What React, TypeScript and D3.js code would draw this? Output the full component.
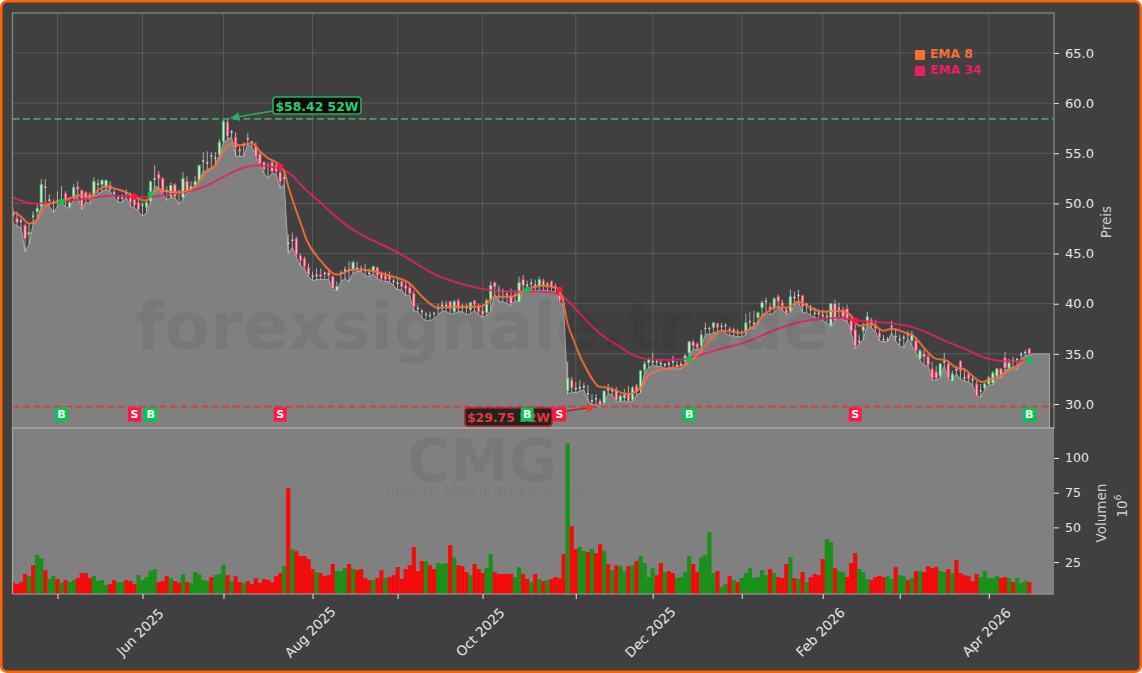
import { useEffect, useRef } from "react";
import * as d3 from "d3";

const W = 1142;
const H = 673;

const opens = [
  49.1,48.5,48.2,47.8,46.9,48.7,49.2,49.7,51.6,50.3,
  50.0,50.2,50.1,51.0,49.6,50.6,51.7,51.3,51.1,50.9,
  50.7,51.9,51.9,51.6,51.8,51.0,50.5,50.5,51.0,50.6,
  50.4,50.1,49.8,49.6,50.2,52.4,52.9,52.5,51.2,50.7,
  51.9,51.0,50.6,52.2,51.4,51.8,52.2,54.2,54.0,54.7,
  54.5,54.9,56.2,58.1,57.1,56.6,55.4,55.8,56.4,56.2,
  55.7,54.9,54.1,53.7,54.1,53.8,53.1,52.6,46.0,46.3,
  46.5,44.8,44.5,43.6,42.7,42.8,42.9,43.0,43.1,42.7,
  41.3,43.0,43.3,43.3,43.3,43.5,43.4,43.3,43.0,43.3,
  43.6,43.0,42.8,42.8,42.2,42.0,42.2,41.8,41.6,41.0,
  39.5,39.2,38.9,38.8,39.0,39.5,39.8,39.8,40.2,39.2,
  40.3,39.6,39.6,39.4,40.3,39.8,39.3,39.1,40.3,42.1,
  41.3,41.2,40.9,40.8,40.8,40.2,42.4,41.8,42.0,41.8,
  41.8,42.3,41.9,42.2,41.6,41.2,39.9,31.3,32.4,31.5,
  31.6,31.7,31.0,30.3,30.6,30.3,30.1,31.4,31.3,31.4,
  30.3,30.6,31.1,30.4,31.8,31.6,33.4,34.1,34.2,34.2,
  34.0,33.9,34.0,34.2,33.8,33.9,34.3,35.1,36.2,36.0,
  35.8,37.5,37.5,37.6,38.0,37.7,37.8,37.4,37.3,37.1,
  37.2,37.1,38.2,38.0,38.6,39.6,40.2,39.7,39.5,40.7,
  40.1,39.4,39.2,40.6,40.8,40.8,39.9,39.4,39.0,39.0,
  38.8,38.7,37.8,40.0,39.5,39.4,39.5,38.3,37.4,36.2,
  37.3,38.2,38.4,37.9,37.1,36.4,36.4,37.7,36.7,36.4,
  36.6,36.9,36.3,36.3,34.5,35.0,34.7,33.5,33.2,32.8,
  34.2,34.0,32.3,33.4,34.3,32.6,33.0,32.4,32.0,31.3,
  31.6,32.0,32.1,32.8,33.5,34.6,33.6,34.3,34.4,34.9,35.1,35.5,
];
const closes = [
  48.7,48.1,48.3,46.5,47.1,48.8,49.5,51.9,51.7,50.4,
  50.1,50.3,50.4,50.2,50.1,51.6,51.4,49.7,50.4,50.4,
  52.2,52.0,52.3,52.3,51.4,51.1,50.6,50.6,51.1,50.1,
  49.8,49.4,49.9,50.1,52.2,52.5,52.5,51.1,51.3,51.8,
  50.7,51.1,52.5,51.3,51.7,52.2,53.8,54.3,54.1,54.8,
  54.6,56.1,58.2,56.7,57.2,55.6,55.2,55.9,56.5,56.1,
  54.7,54.0,53.4,53.8,53.2,53.2,52.2,52.5,46.1,46.4,
  44.9,44.3,43.7,42.9,42.8,42.9,42.7,43.1,42.8,41.5,
  41.7,43.1,43.4,43.4,44.1,43.6,43.5,43.4,43.1,43.7,
  42.8,42.5,42.4,42.4,42.3,42.1,41.7,41.5,41.0,39.7,
  39.6,39.3,39.0,38.9,39.1,39.6,39.9,39.9,39.5,40.2,
  39.5,39.7,39.7,40.1,39.9,39.2,38.9,40.3,41.8,41.7,
  41.4,41.3,41.0,40.0,40.9,42.1,41.8,41.9,42.1,41.9,
  42.4,41.8,42.0,41.7,41.7,40.3,40.0,32.6,31.6,31.6,
  31.7,31.8,31.1,30.4,30.5,29.9,31.3,31.5,31.4,30.4,
  30.8,30.9,30.3,31.6,31.2,33.3,34.0,34.4,34.3,34.3,
  34.1,34.0,34.1,34.3,33.9,34.0,34.8,36.2,35.8,35.6,
  36.9,37.6,37.6,38.1,37.6,37.8,37.9,37.5,37.4,37.2,
  37.1,38.1,38.3,38.1,39.1,40.1,40.3,39.4,40.5,40.2,
  39.8,39.0,40.7,40.7,40.9,39.7,40.0,39.5,39.1,39.1,
  38.9,38.8,40.0,38.3,39.6,38.7,38.4,37.3,35.8,36.3,
  37.7,38.7,37.8,37.5,36.6,36.5,36.5,37.8,36.8,36.5,
  36.7,37.0,36.9,35.3,35.3,34.7,33.9,32.6,32.6,34.0,
  34.3,32.6,33.0,33.5,33.3,32.7,32.5,32.5,30.8,31.4,
  32.0,32.6,33.1,33.5,32.9,33.6,34.1,34.4,34.5,35.0,35.2,35.0,
];
const highs = [
  49.6,49.2,48.7,48.0,48.0,49.2,49.9,52.4,52.4,50.9,
  50.4,51.2,51.7,51.2,50.6,51.9,52.2,51.4,51.2,51.1,
  52.6,52.4,52.4,52.4,52.2,51.4,50.8,50.9,51.4,51.1,
  50.7,50.6,50.1,50.4,52.2,53.8,53.2,52.6,51.7,52.1,
  52.0,51.4,53.1,52.7,52.2,52.7,53.8,55.1,55.2,55.1,
  55.1,56.4,58.3,58.4,57.3,57.1,55.7,56.1,57.0,56.2,
  56.1,55.2,54.2,54.1,54.2,54.0,53.7,53.3,46.9,47.1,
  46.7,45.0,44.7,44.0,43.2,43.5,43.5,43.2,43.5,42.8,
  42.2,43.3,43.7,44.2,44.3,44.2,43.8,44.0,43.5,43.8,
  43.7,43.2,43.2,43.2,42.5,42.5,42.3,42.2,42.0,41.3,
  39.9,39.5,39.2,39.2,39.2,40.0,40.3,40.3,40.3,40.4,
  40.5,40.0,40.0,40.2,40.3,40.0,39.7,40.5,42.2,42.2,
  41.8,41.5,41.3,41.5,41.3,42.7,42.9,42.3,42.5,42.4,
  42.7,42.5,42.2,42.3,42.0,41.5,40.8,34.2,32.7,32.2,
  32.4,32.1,31.9,31.0,31.0,30.5,31.3,32.0,31.7,31.7,
  31.0,31.5,31.8,31.8,32.0,33.4,34.3,34.6,35.1,34.5,
  34.5,34.1,34.3,34.8,34.3,34.3,35.0,36.3,36.4,36.2,
  37.4,38.1,37.7,38.1,38.1,38.1,38.1,37.7,37.6,37.5,
  37.4,39.0,39.2,39.3,39.2,40.3,40.6,40.1,40.6,40.9,
  40.4,39.7,41.4,41.2,41.4,40.9,40.1,39.9,39.6,39.4,
  39.4,39.2,40.1,40.4,40.1,39.7,39.9,38.7,38.4,36.9,
  38.1,39.2,38.6,38.4,37.5,36.9,36.7,38.3,37.5,36.9,
  36.9,37.3,37.3,36.6,35.5,35.5,35.0,34.2,33.8,34.1,
  35.1,34.3,33.3,33.8,34.3,33.3,33.1,32.8,32.3,32.0,
  32.2,32.8,33.3,33.6,33.6,35.2,34.5,34.7,34.6,35.2,35.4,35.6,
];
const lows = [
  48.1,47.7,47.6,45.2,45.9,47.9,48.4,49.7,50.1,49.7,
  49.1,49.7,50.0,49.7,49.5,50.4,50.7,49.4,50.1,50.0,
  50.6,50.9,51.2,51.4,51.2,50.6,50.1,50.1,50.6,49.7,
  49.6,49.2,48.7,49.1,50.1,51.7,51.6,50.9,50.3,50.6,
  50.6,49.9,50.4,51.1,51.2,51.6,52.1,53.2,53.2,53.4,
  53.9,54.8,56.0,56.4,56.6,54.7,54.7,54.7,55.9,55.6,
  54.7,53.8,53.0,52.5,53.0,52.9,51.5,51.9,45.0,45.6,
  44.6,43.8,43.5,42.7,42.3,42.4,42.4,42.4,42.4,41.4,
  41.3,42.2,42.5,42.2,43.1,43.2,43.2,42.8,42.7,43.0,
  42.5,42.3,42.2,42.2,41.8,41.4,41.4,40.8,40.8,39.3,
  39.2,38.6,38.3,38.3,38.5,38.9,39.3,39.2,39.0,39.0,
  39.2,39.2,38.9,39.0,39.3,38.9,38.7,38.8,39.3,40.9,
  40.2,40.2,40.0,39.8,40.3,40.2,41.3,41.3,41.3,41.3,
  41.3,41.3,41.3,41.2,41.2,40.2,39.7,31.0,31.2,31.1,
  31.3,31.4,30.4,29.9,29.9,29.75,30.0,31.0,30.9,30.3,
  30.2,30.3,30.2,30.3,30.9,31.1,33.1,33.6,33.9,33.7,
  33.8,33.5,33.5,33.5,33.5,33.5,33.9,34.8,35.5,35.4,
  35.6,37.0,36.9,37.1,37.2,37.4,37.1,36.8,36.8,36.7,
  36.7,36.9,37.7,37.5,38.0,38.9,39.1,38.9,39.1,39.6,
  39.4,38.9,39.1,39.9,40.2,39.1,39.1,38.9,38.6,38.5,
  38.3,38.1,37.7,38.3,38.7,38.4,38.3,37.1,35.5,36.0,
  36.4,37.9,37.6,37.2,36.3,36.2,36.2,37.1,36.3,35.8,
  35.6,36.5,35.8,35.1,34.4,33.8,33.8,32.4,32.4,32.6,
  33.8,32.5,32.3,33.0,32.5,32.3,32.2,31.9,30.8,30.7,
  31.4,31.9,31.9,32.6,32.6,33.4,33.5,33.7,33.4,34.5,34.8,34.9,
];
// area runs on a little past the last session
const areaTailIdx = [252, 256];
const areaTailPrice = [35.0, 35.0];

const volumes = [
  10.4,9.2,10.4,16.4,14.9,22.8,30.0,27.9,19.2,12.8,
  14.9,12.8,10.1,12.1,10.6,12.1,13.5,17.1,17.1,13.5,
  14.9,11.3,12.1,8.5,9.2,12.1,10.6,10.6,12.1,11.3,
  9.2,15.6,12.1,14.2,18.5,20.0,10.6,11.3,14.9,13.5,
  11.3,10.1,16.4,10.6,9.9,17.8,16.4,12.1,11.3,14.2,
  15.6,16.4,22.8,15.6,11.3,14.9,10.6,9.9,11.3,9.2,
  13.5,9.9,12.8,12.1,10.6,14.9,17.1,22.1,78.2,34.4,
  32.9,29.3,29.3,27.2,20.0,17.8,17.1,14.9,15.6,23.6,
  18.5,18.5,20.7,23.6,20.0,19.2,20.0,13.5,12.1,12.1,
  13.5,19.2,13.5,14.2,15.6,21.4,12.8,20.0,22.8,35.8,
  18.5,25.7,25.7,22.8,20.0,24.3,23.6,24.3,37.2,28.6,
  22.8,22.1,17.8,15.6,23.6,20.0,17.1,20.7,30.8,17.8,
  16.4,16.4,16.4,16.4,14.2,21.4,16.4,12.8,10.6,16.4,
  12.8,11.3,12.1,12.8,14.2,13.5,30.8,110.6,50.9,34.4,
  35.8,32.9,32.2,34.4,31.5,37.9,32.9,23.6,19.2,22.8,
  22.1,18.5,22.1,22.8,25.7,29.3,24.3,14.2,20.7,15.6,
  24.3,17.8,18.5,17.1,13.5,14.2,17.8,29.3,23.6,17.8,
  28.6,30.0,46.6,17.1,18.5,7.0,9.2,14.9,12.1,10.6,
  13.5,17.1,20.7,13.5,14.2,19.2,15.6,20.0,17.1,14.2,
  13.5,23.6,28.6,13.5,12.8,17.8,10.6,14.2,16.4,15.6,
  27.2,41.5,39.4,20.7,18.5,17.8,14.2,24.3,31.5,20.0,
  17.8,12.8,12.1,14.2,14.9,14.2,14.9,12.8,21.4,15.6,
  14.9,12.1,13.5,18.5,18.5,17.8,22.1,20.7,21.4,18.5,
  17.8,20.0,17.1,26.4,17.1,15.6,14.9,11.3,16.4,14.2,
  18.5,13.5,13.5,14.9,13.5,14.2,13.5,10.6,13.5,9.9,11.3,10.6,
];
const volumeDir = [
  "RRRRGRGGRG",
  "GRGRGGRRRR",
  "GGGGRRGGRR",
  "RGGGGGRRRG",
  "RRGRGGGGGR",
  "GGGRGRRGRR",
  "RRRRRRRGRG",
  "RRRRRGRRRR",
  "GGGRGRRRRG",
  "RRGRRRRRRR",
  "RRGRRGGGRG",
  "RRRGRRRGGR",
  "RRRRGGRRGR",
  "GRGRRRRGRR",
  "GGRGRRGRGR",
  "GGRGRGGGGR",
  "RGRRGGGGRR",
  "GGGGRGGRGR",
  "GGGGGGGRGR",
  "RRGRGRGRRR",
  "RGGRGGRRRG",
  "GGRRRRGGRG",
  "GRGRGRRRRG",
  "GRGRRRRRRG",
  "GGGGRRGRGG",
  "GR",
].join("").split("");

// EMA readings: session number and price
const ema8Idx = [0,2,4,6,8,10,12,14,16,19,21,23,25,28,30,33,34,36,38,41,44,46,48,50,52,54,56,59,61,63,65,67,68,71,72.6,76,80,84,88,93,98,101.6,105,108.5,115,117,119,123,126.6,130.8,134.7,135.7,137,138.6,139.9,141.5,143.2,144.6,146.9,148.9,151.8,155,157,160,164,166,170,173,175.3,180,183,186,189,191,194,196.5,200,202.6,205.4,207,209,212,215,217,221,222.4,225,228,230.2,233.1,234.8,237,239.3,241,243.8,247,250];
const ema8 = [49.2,48.7,48.0,48.4,49.7,50.1,50.2,50.5,50.8,50.6,51.3,51.7,51.5,51.1,50.6,50.3,50.7,51.4,51.2,51.1,51.4,52.2,53.3,53.8,55.2,56.0,55.8,56.0,55.2,54.5,54.1,53.2,51.7,48.1,46.3,44.3,42.9,43.4,43.3,42.8,42.0,40.5,39.6,39.7,39.7,40.0,40.7,40.7,41.4,41.8,41.5,40.5,38.0,36.25,34.9,33.6,32.4,31.76,31.6,31.33,31.0,31.6,32.9,33.4,33.7,33.9,35.3,36.8,37.3,37.1,37.8,39.1,39.7,39.6,40.2,39.7,39.2,39.3,39.2,38.8,37.8,38.0,37.3,37.5,37.0,36.8,35.6,34.5,34.4,33.6,33.5,32.8,32.2,32.4,32.8,33.6,34.3];
const ema34Idx = [0,4,7.4,12,16.5,21.5,25.6,30,34,38,43,48,52,56,60,66,69.5,71,76,81,85.9,90.8,95.7,103,108,115.4,120,125,134.9,137.4,139.9,144.8,149.8,153.9,159.6,166.7,171.2,175.3,180.3,185.2,190.2,194.3,199.3,205,208,212.5,215.8,221.5,225,229,233,236.4,239.7,244.6,250.4];
const ema34 = [50.6,49.9,50.0,50.2,50.4,50.7,50.8,50.6,50.6,50.9,51.1,51.7,52.7,53.5,53.9,53.6,52.7,51.8,50.1,48.15,46.85,45.95,45.05,43.06,42.26,41.47,41.2,41.2,41.3,40.1,39.1,36.9,35.8,34.5,34.4,34.4,35.1,35.6,36.0,36.9,37.7,38.2,38.5,38.65,38.3,38.25,38.1,37.8,37.3,36.5,35.8,35.3,34.55,34.2,34.3];

const priceTicks = [30, 35, 40, 45, 50, 55, 60, 65];
const volumeTicks = [25, 50, 75, 100];
const monthIdx = [11, 32, 52, 74, 95, 116, 139, 158, 180, 200, 219, 241];
const monthLabels = ["", "Jun 2025", "", "Aug 2025", "", "Oct 2025", "", "Dec 2025", "", "Feb 2026", "", "Apr 2026"];

const signalIdx = [12, 30, 34, 66, 127, 135, 167, 208, 251];
const signalType = ["B", "S", "B", "S", "B", "S", "B", "S", "B"];
const signalPrice = [50.2, 50.7, 50.9, 53.7, 41.4, 41.4, 34.5, 38.3, 34.4];

const high52 = 58.42;
const low52 = 29.75;

const BG = "#404040";
const GRAY = "#808080";
const ORANGE = "#ff6b35";
const PINK = "#e91e63";
const BUY = "#00c853";
const SELL = "#ff1744";
const FONT = "DejaVu Sans, sans-serif";

const App = () => {
  const svgRef = useRef<SVGSVGElement | null>(null);

  useEffect(() => {
    if (!svgRef.current) return;
    const svg = d3.select(svgRef.current);
    svg.selectAll("*").remove();

    const left = 12.5;
    const right = 1054;
    const top = 13;
    const mid = 428;
    const bottom = 594;

    const x = d3.scaleLinear().domain([-0.1, 257.1]).range([left, right]);
    const y = d3.scaleLinear().domain([27.61, 68.98]).range([mid, top]);
    const yVol = d3.scaleLinear().domain([2, 121.6]).range([bottom, mid]);

    // figure background and orange frame
    svg.append("rect").attr("x", 1.25).attr("y", 1.25).attr("width", W - 2.5).attr("height", H - 2.5)
      .attr("rx", 6).attr("fill", BG).attr("stroke", "#ff6000").attr("stroke-width", 2.5);

    const defs = svg.append("defs");
    defs.append("clipPath").attr("id", "clip-top").append("rect")
      .attr("x", left).attr("y", top).attr("width", right - left).attr("height", mid - top);
    defs.append("clipPath").attr("id", "clip-vol").append("rect")
      .attr("x", left).attr("y", mid).attr("width", right - left).attr("height", bottom - mid);
    const marker = (id: string, color: string) => {
      defs.append("marker").attr("id", id).attr("viewBox", "0 0 10 10").attr("refX", 9).attr("refY", 5)
        .attr("markerUnits", "userSpaceOnUse").attr("markerWidth", 11).attr("markerHeight", 9).attr("orient", "auto")
        .append("path").attr("d", "M0,0L10,5L0,10Z").attr("fill", color);
    };
    marker("arrow-green", "#27ae60");
    marker("arrow-red", "#e53935");

    // grid
    const grid = svg.append("g").attr("stroke", "#ffffff").attr("stroke-opacity", 0.17).attr("stroke-width", 0.8);
    grid.selectAll("line.h").data(priceTicks).join("line").attr("class", "h")
      .attr("x1", left).attr("x2", right).attr("y1", (d) => y(d)).attr("y2", (d) => y(d));
    grid.selectAll("line.v").data(monthIdx).join("line").attr("class", "v")
      .attr("x1", (d) => x(d)).attr("x2", (d) => x(d)).attr("y1", top).attr("y2", mid);

    // price area follows the lows
    const areaPts: [number, number][] = [
      ...lows.map((d, i) => [i, d] as [number, number]),
      ...areaTailIdx.map((d, i) => [d, areaTailPrice[i]] as [number, number]),
    ];
    const top_g = svg.append("g").attr("clip-path", "url(#clip-top)");
    top_g.append("path").datum(areaPts)
      .attr("d", d3.area<[number, number]>().x((d) => x(d[0])).y0(mid).y1((d) => y(d[1])))
      .attr("fill", GRAY);
    const outline = [[-1, lows[0]] as [number, number], ...areaPts];
    top_g.append("path").datum(outline)
      .attr("d", d3.line<[number, number]>().x((d) => x(d[0])).y((d) => y(d[1])))
      .attr("fill", "none").attr("stroke", "#aaaaaa").attr("stroke-width", 1);
    top_g.append("line").attr("x1", x(256)).attr("x2", x(256)).attr("y1", y(35)).attr("y2", mid)
      .attr("stroke", "#aaaaaa").attr("stroke-width", 1);

    // watermark
    svg.append("text").text("forexsignale.trade").attr("x", 482).attr("y", 349).attr("text-anchor", "middle")
      .attr("font-family", FONT).attr("font-weight", "bold").attr("font-size", 66.5)
      .attr("fill", "#000").attr("fill-opacity", 0.06);

    // reference lines 52W
    svg.append("line").attr("x1", left).attr("x2", right).attr("y1", y(high52)).attr("y2", y(high52))
      .attr("stroke", "#3fa565").attr("stroke-width", 1.8).attr("stroke-dasharray", "7 3.5");
    svg.append("line").attr("x1", left).attr("x2", right).attr("y1", y(low52)).attr("y2", y(low52))
      .attr("stroke", "#d93a3a").attr("stroke-width", 1.8).attr("stroke-dasharray", "7 3.5");

    // candles
    const candles = top_g.append("g");
    const days = d3.range(closes.length);
    const isDoji = (i: number) => Math.abs(opens[i] - closes[i]) < 0.15;
    candles.selectAll("line").data(days).join("line")
      .attr("x1", (i) => x(i)).attr("x2", (i) => x(i))
      .attr("y1", (i) => y(highs[i])).attr("y2", (i) => y(lows[i]))
      .attr("stroke", "#cccccc").attr("stroke-width", 0.8);
    candles.selectAll("rect").data(days).join("rect")
      .attr("x", (i) => x(i) - (isDoji(i) ? 1 : 1.2)).attr("width", (i) => (isDoji(i) ? 2 : 2.4))
      .attr("y", (i) => y(Math.max(opens[i], closes[i])))
      .attr("height", (i) => Math.max(1.5, Math.abs(y(opens[i]) - y(closes[i]))))
      .attr("fill", (i) => {
        if (isDoji(i)) return "#d8d8d8";
        return closes[i] >= opens[i] ? "#cdeccd" : "#ffb3c4";
      })
      .attr("stroke", (i) => {
        if (isDoji(i)) return "none";
        return closes[i] >= opens[i] ? "#3fbf60" : "#f0345f";
      })
      .attr("stroke-width", 0.7);

    // EMA lines
    top_g.append("path").datum(ema34)
      .attr("d", d3.line<number>().curve(d3.curveBasis).x((_, i) => x(ema34Idx[i])).y((d) => y(d)))
      .attr("fill", "none").attr("stroke", PINK).attr("stroke-width", 2).attr("stroke-opacity", 0.85);
    top_g.append("path").datum(ema8)
      .attr("d", d3.line<number>().curve(d3.curveMonotoneX).x((_, i) => x(ema8Idx[i])).y((d) => y(d)))
      .attr("fill", "none").attr("stroke", ORANGE).attr("stroke-width", 2).attr("stroke-opacity", 0.9);

    // crossing dots
    svg.append("g").selectAll("circle").data(signalIdx).join("circle")
      .attr("cx", (d) => x(d)).attr("cy", (_, i) => y(signalPrice[i])).attr("r", 3)
      .attr("fill", (_, i) => (signalType[i] === "B" ? BUY : SELL));

    // volume panel
    svg.append("rect").attr("x", left).attr("y", mid).attr("width", right - left).attr("height", bottom - mid)
      .attr("fill", GRAY);
    svg.append("text").text("CMG").attr("x", 482).attr("y", 481).attr("text-anchor", "middle")
      .attr("font-family", FONT).attr("font-weight", "bold").attr("font-size", 59)
      .attr("fill", "#000").attr("fill-opacity", 0.06);
    svg.append("text").text("Chipotle Mexican Grill, Inc.").attr("x", 481).attr("y", 497).attr("text-anchor", "middle")
      .attr("font-family", FONT).attr("font-size", 17)
      .attr("fill", "#000").attr("fill-opacity", 0.06);
    svg.append("g").attr("clip-path", "url(#clip-vol)").selectAll("rect").data(volumes).join("rect")
      .attr("x", (_, i) => x(i) - 2.1).attr("width", 4.2)
      .attr("y", (d) => yVol(d)).attr("height", (d) => bottom - yVol(d))
      .attr("fill", (_, i) => (volumeDir[i] === "G" ? "#0f920f" : "#ff0000"))
      .attr("fill-opacity", 0.92);

    // panel frames
    svg.append("rect").attr("x", left).attr("y", top).attr("width", right - left).attr("height", mid - top)
      .attr("fill", "none").attr("stroke", "#8c8c8c").attr("stroke-width", 1.2);
    svg.append("line").attr("x1", left).attr("x2", right).attr("y1", mid).attr("y2", mid)
      .attr("stroke", "#a6a6a6").attr("stroke-width", 1.6);
    svg.append("line").attr("x1", left).attr("x2", right).attr("y1", bottom).attr("y2", bottom)
      .attr("stroke", "#a6a6a6").attr("stroke-width", 1.2);
    svg.append("line").attr("x1", left).attr("x2", left).attr("y1", mid).attr("y2", bottom)
      .attr("stroke", "#a6a6a6").attr("stroke-width", 1.2);

    // axes
    const styleAxis = (size: number) => (g: d3.Selection<SVGGElement, unknown, null, undefined>) => {
      g.select(".domain").remove();
      g.selectAll("line").attr("stroke", "#e6e6e6").attr("stroke-width", 1);
      g.selectAll("text").attr("fill", "#e6e6e6").attr("font-family", FONT).attr("font-size", size);
    };
    const priceAxis = d3.axisRight(y).tickValues(priceTicks).tickFormat((d) => d3.format(".1f")(d as number)).tickSize(5).tickPadding(6);
    svg.append("g").attr("transform", `translate(${right},0)`).call(priceAxis).call(styleAxis(13));
    const volumeAxis = d3.axisRight(yVol).tickValues(volumeTicks).tickFormat((d) => String(d)).tickSize(5).tickPadding(6);
    svg.append("g").attr("transform", `translate(${right},0)`).call(volumeAxis).call(styleAxis(12.5));
    const monthAxis = d3.axisBottom(x).tickValues(monthIdx)
      .tickFormat((_, i) => monthLabels[i]).tickSize(5).tickPadding(0);
    const xg = svg.append("g").attr("transform", `translate(0,${bottom})`).call(monthAxis).call(styleAxis(13.5));
    xg.selectAll("text")
      .attr("y", 0).attr("dy", 0).attr("text-anchor", "middle").attr("dominant-baseline", "central")
      .attr("transform", "translate(-3,38) rotate(-45)");

    // axis titles
    const sideLabel = (txt: string, px: number, py: number) =>
      svg.append("text").text(txt).attr("transform", `translate(${px},${py}) rotate(-90)`)
        .attr("text-anchor", "middle").attr("dominant-baseline", "central")
        .attr("font-family", FONT).attr("font-size", 13.5).attr("fill", "#cfcfcf");
    sideLabel("Preis", 1106, 222);
    sideLabel("Volumen", 1101, 513);
    const pow = sideLabel("10", 1122, 506);
    pow.append("tspan").text("6").attr("font-size", 9.5).attr("dy", -5);

    // legend
    const legend = [
      { name: "EMA 8", color: ORANGE },
      { name: "EMA 34", color: PINK },
    ];
    legend.forEach((d, i) => {
      svg.append("rect").attr("x", 915).attr("y", 50 + i * 16).attr("width", 10).attr("height", 10).attr("fill", d.color);
      svg.append("text").text(d.name).attr("x", 930).attr("y", 58 + i * 16)
        .attr("font-family", FONT).attr("font-weight", "bold").attr("font-size", 12.2).attr("fill", d.color);
    });

    // 52 week callouts
    const callout = (label: string, bx: number, by: number, bw: number, bh: number, stroke: string, fill: string, color: string, mk: string, ax1: number, ay1: number, ax2: number, ay2: number) => {
      svg.append("line").attr("x1", ax1).attr("y1", ay1).attr("x2", ax2).attr("y2", ay2)
        .attr("stroke", stroke).attr("stroke-width", 1.6).attr("marker-end", `url(#${mk})`);
      svg.append("rect").attr("x", bx).attr("y", by).attr("width", bw).attr("height", bh).attr("rx", 3)
        .attr("fill", fill).attr("stroke", stroke).attr("stroke-width", 1.6);
      svg.append("text").text(label).attr("x", bx + bw / 2).attr("y", by + bh / 2 + 0.5)
        .attr("text-anchor", "middle").attr("dominant-baseline", "central")
        .attr("font-family", FONT).attr("font-weight", "bold").attr("font-size", 12.4).attr("fill", color);
    };
    callout(`$${high52.toFixed(2)} 52W`, 273, 97, 88, 17, "#27ae60", "#0c0c0c", "#2ecc71", "arrow-green", 273, 111, x(53) + 3.6, y(high52) - 1);
    callout(`$${low52.toFixed(2)} 52W`, 465, 408, 87, 18, "#b02525", "#222222", "#e53935", "arrow-red", 552, 413, x(145) - 5, y(low52) + 0.5);

    // buy / sell tags
    const tags = svg.append("g").selectAll("g").data(signalIdx).join("g")
      .attr("transform", (d) => `translate(${x(d)},414.5)`);
    tags.append("rect").attr("x", -6.5).attr("y", -7).attr("width", 13).attr("height", 14)
      .attr("fill", (_, i) => (signalType[i] === "B" ? BUY : SELL));
    tags.append("text").text((_, i) => signalType[i]).attr("text-anchor", "middle").attr("dominant-baseline", "central")
      .attr("font-family", FONT).attr("font-weight", "bold").attr("font-size", 11).attr("fill", "#fff");
  }, []);

  return <svg ref={svgRef} width={W} height={H} style={{ position: "absolute", left: 0, top: 0, display: "block" }} />;
};

export default App;
